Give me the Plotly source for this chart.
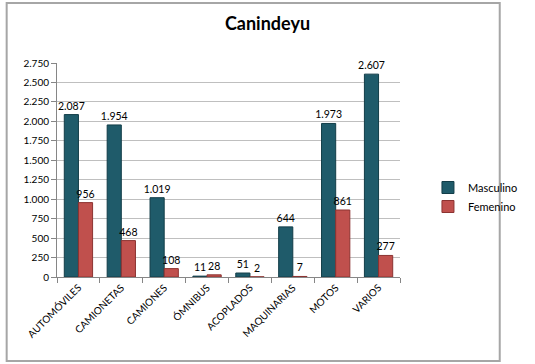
import plotly.graph_objects as go

categories = ["AUTOMÓVILES", "CAMIONETAS", "CAMIONES", "ÓMNIBUS", "ACOPLADOS", "MAQUINARIAS", "MOTOS", "VARIOS"]
masculino = [2087, 1954, 1019, 11, 51, 644, 1973, 2607]
femenino = [956, 468, 108, 28, 2, 7, 861, 277]
y_ticks = [0, 250, 500, 750, 1000, 1250, 1500, 1750, 2000, 2250, 2500, 2750]

FONT = "Lato, Open Sans, sans-serif"

fig = go.Figure()
fig.add_trace(go.Bar(
    name="Masculino", x=categories, y=masculino,
    marker=dict(color="#1f5b6a", line=dict(color="#123d48", width=1)),
    texttemplate="%{y:,}", textposition="outside", textangle=0, constraintext="none",
    textfont=dict(size=10.5, color="#000000", family=FONT), cliponaxis=False,
))
fig.add_trace(go.Bar(
    name="Femenino", x=categories, y=femenino,
    marker=dict(color="#c0504d", line=dict(color="#8c3331", width=1)),
    texttemplate="%{y:,}", textposition="outside", textangle=0, constraintext="none",
    textfont=dict(size=10.5, color="#000000", family=FONT), cliponaxis=False,
))

L, T, W, H = 57, 63, 535, 364
plot_w = 425 - L
plot_h = 277 - T

fig.update_layout(
    width=W, height=H,
    margin=dict(l=L, r=W - 425, t=T, b=H - 277, pad=0),
    paper_bgcolor="white", plot_bgcolor="white",
    separators=",.",
    barmode="group", bargap=0.34, bargroupgap=0.0,
    title=dict(text="<b>Canindeyu</b>", x=0.5, xanchor="center", y=0.935, yanchor="middle",
               font=dict(size=18, family="Lato, sans-serif", color="#000000")),
    font=dict(family=FONT, size=10, color="#000000"),
    showlegend=True,
    legend=dict(x=(455 - L) / plot_w, y=(277 - 197) / plot_h, xanchor="left", yanchor="middle",
                font=dict(size=11, family=FONT), bgcolor="rgba(0,0,0,0)",
                itemwidth=30, tracegroupgap=4),
    xaxis=dict(type="category", tickangle=-45, tickfont=dict(size=10, family=FONT),
               showline=True, linecolor="#868686", ticks="outside", tickson="boundaries",
               ticklen=5, tickcolor="#868686", showgrid=False),
    yaxis=dict(range=[0, 2750], tickvals=y_ticks, tickformat=",d",
               tickfont=dict(size=10, family=FONT),
               showline=True, linecolor="#868686", ticks="outside", ticklen=5, tickcolor="#868686",
               showgrid=True, gridcolor="#bfbfbf", gridwidth=1, zeroline=False),
    shapes=[dict(type="rect", xref="paper", yref="paper",
                 x0=(3 - L) / plot_w, x1=(532 - L) / plot_w,
                 y0=(277 - 361) / plot_h, y1=(277 - 3) / plot_h,
                 line=dict(color="#a6a6a6", width=2), fillcolor="rgba(0,0,0,0)", layer="below")],
)

fig.write_html("out.html", config={"displayModeBar": False},
               post_script="document.body.style.margin='0';document.body.style.padding='0';document.body.style.overflow='hidden';")
